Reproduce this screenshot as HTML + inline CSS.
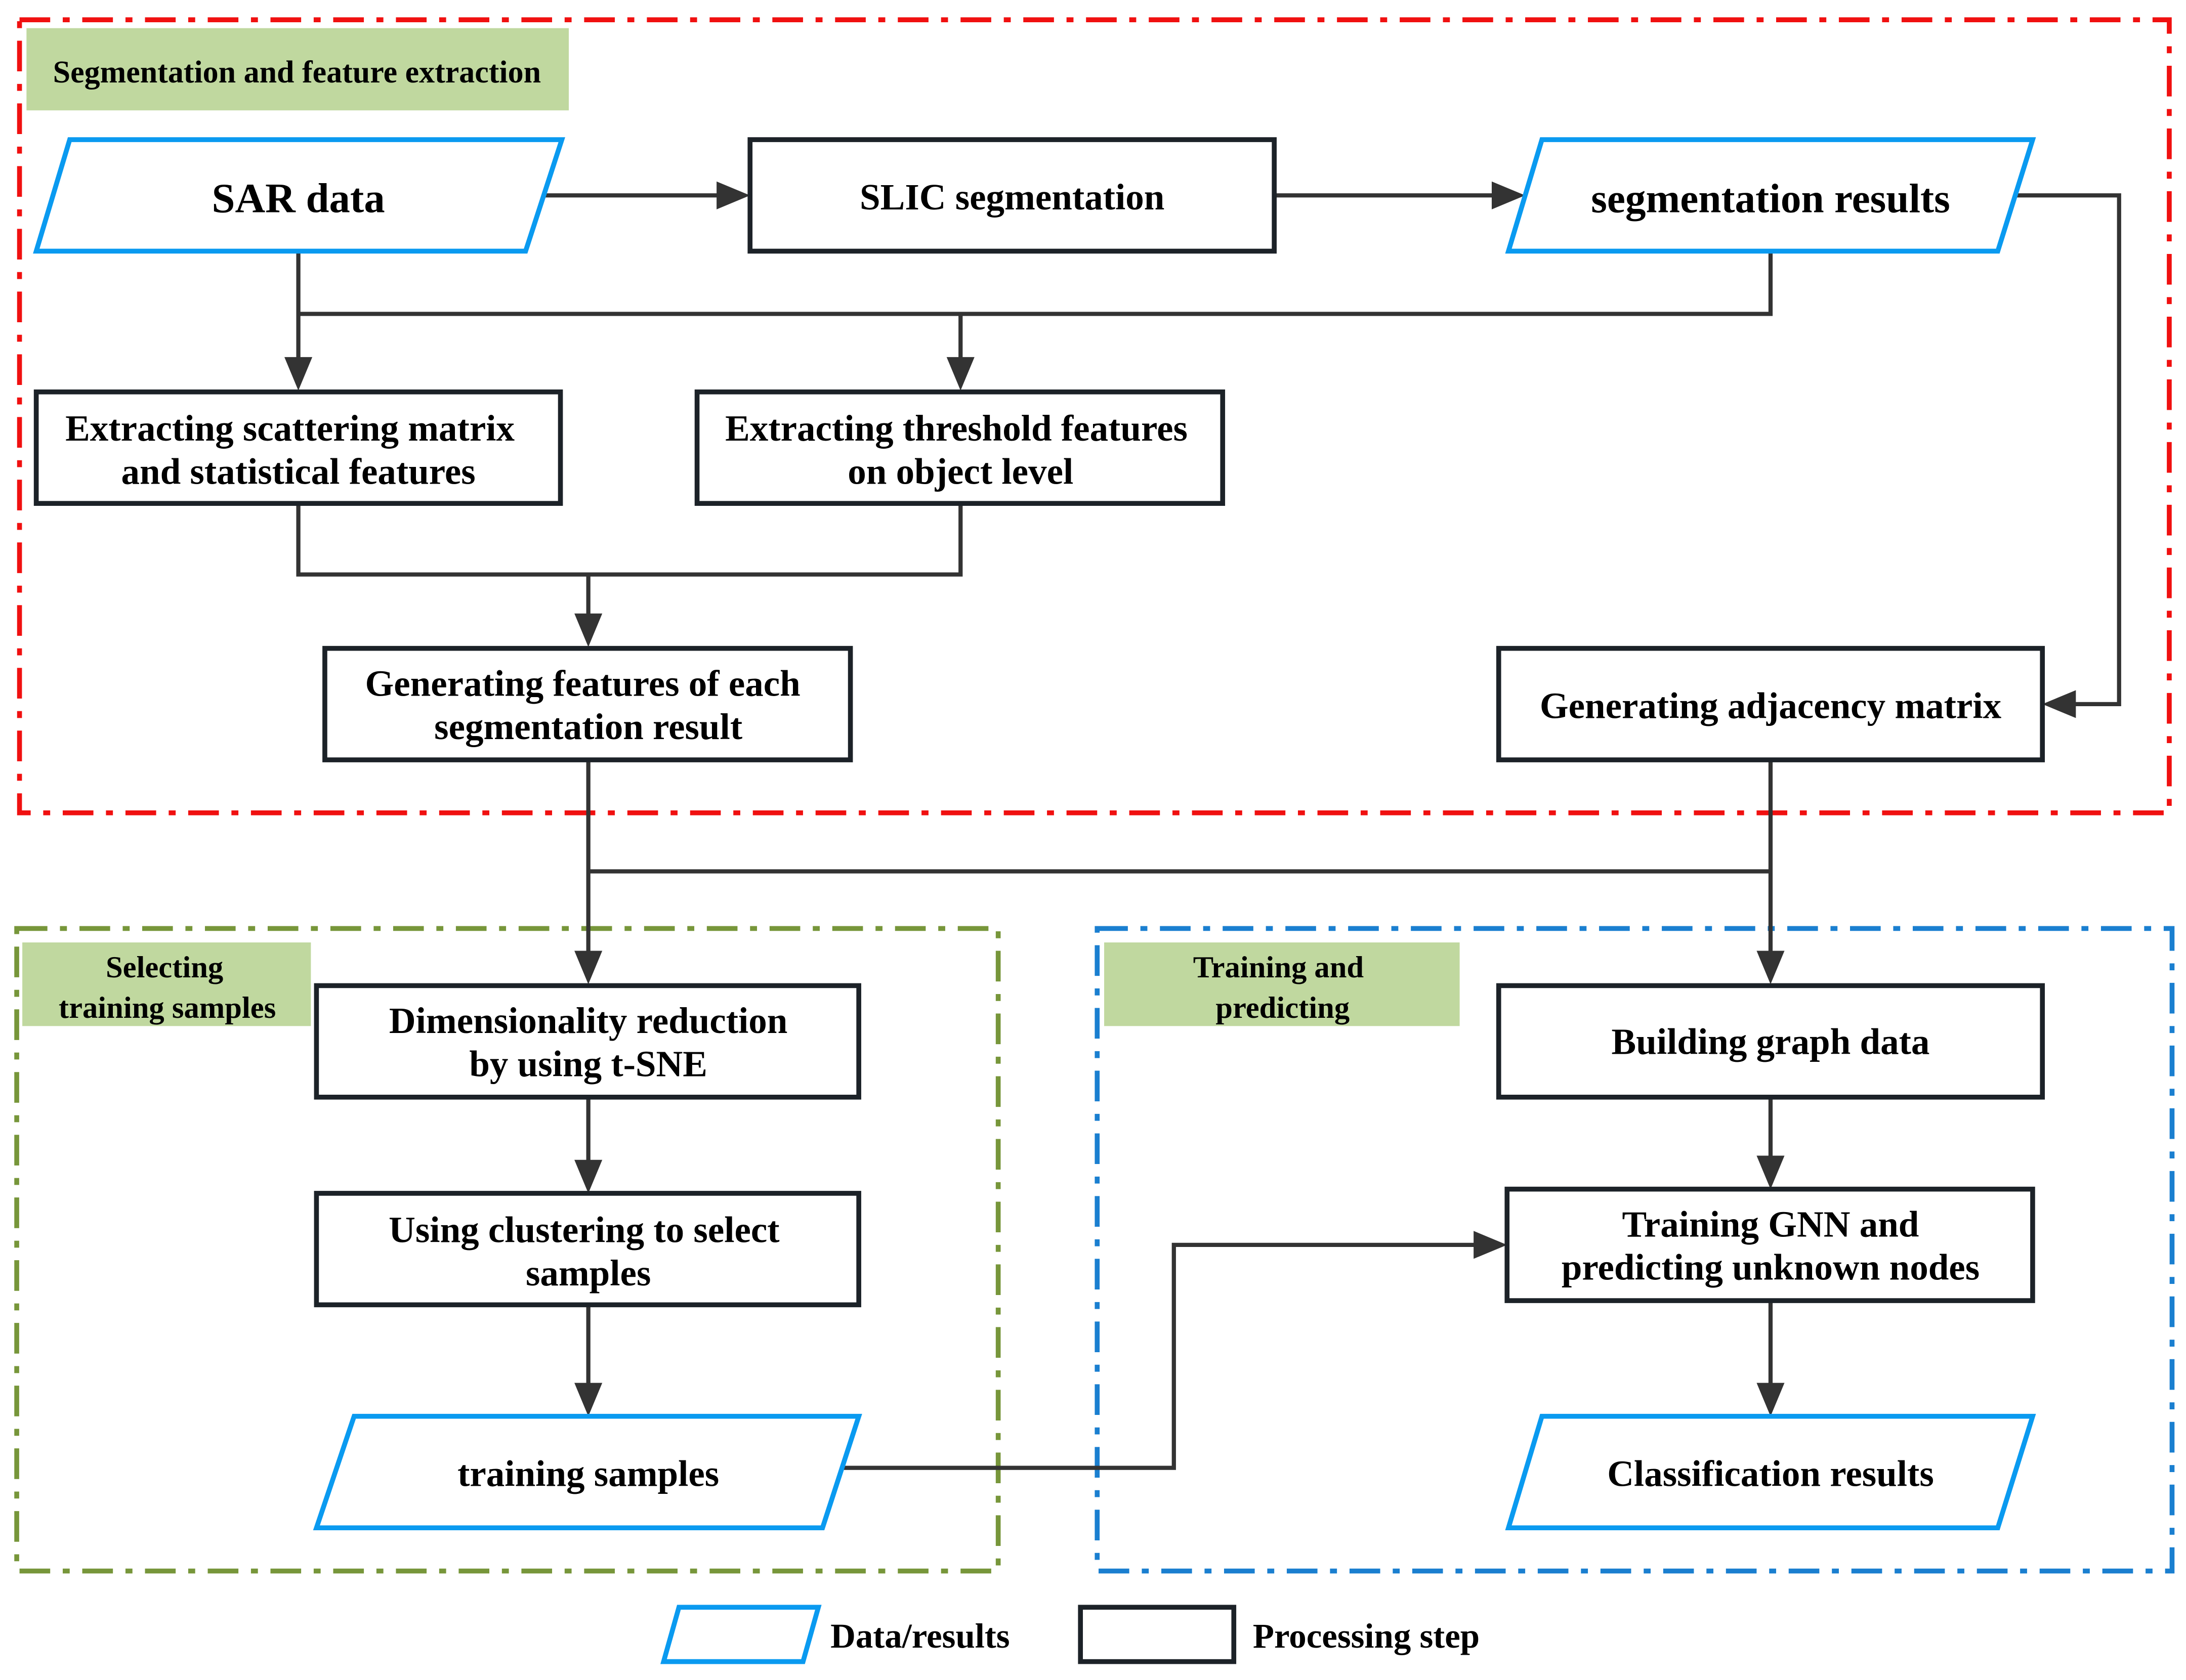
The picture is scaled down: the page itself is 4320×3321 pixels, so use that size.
<!DOCTYPE html>
<html><head><meta charset="utf-8"><style>
html,body{margin:0;padding:0;background:#fff;}
svg{display:block}
text{font-family:"Liberation Serif",serif;font-weight:bold;fill:#000;text-anchor:middle;}
</style></head><body>
<svg width="4320" height="3321" viewBox="0 0 1568 1205" xmlns="http://www.w3.org/2000/svg">
<rect width="1568" height="1205" fill="#fff"/>
<rect x="14" y="14" width="1542" height="569" fill="none" stroke="#f01010" stroke-width="3.5" stroke-dasharray="22,9,5,9"/>
<rect x="12" y="666" width="704" height="461" fill="none" stroke="#77963a" stroke-width="3.5" stroke-dasharray="22,9,5,9"/>
<rect x="787" y="666" width="771" height="461" fill="none" stroke="#1a7fd0" stroke-width="3.5" stroke-dasharray="22,9,5,9"/>
<rect x="19" y="20" width="389" height="59" fill="#c0d89f"/>
<rect x="16" y="676" width="207" height="60" fill="#c0d89f"/>
<rect x="792" y="676" width="255" height="60" fill="#c0d89f"/>
<text x="213" y="59" font-size="22.5">Segmentation and feature extraction</text>
<text x="118" y="701" font-size="22">Selecting</text>
<text x="120" y="730" font-size="22">training samples</text>
<text x="917" y="701" font-size="22">Training and</text>
<text x="920" y="730" font-size="22">predicting</text>
<g stroke="#333" stroke-width="3" fill="none">
<path d="M390 140H520"/>
<path d="M914 140H1076"/>
<path d="M214 180V262"/>
<path d="M214 225H1270V180"/>
<path d="M689 225V262"/>
<path d="M214 361V412H689V361"/>
<path d="M422 412V446"/>
<path d="M1446 140H1520V505H1484"/>
<path d="M422 545V688"/>
<path d="M422 625H1270"/>
<path d="M1270 545V688"/>
<path d="M422 787V838"/>
<path d="M422 936V998"/>
<path d="M1270 787V835"/>
<path d="M1270 933V998"/>
<path d="M604 1053H842V893H1063"/>
</g>
<g fill="#333">
<path d="M538 140L514 130V150Z"/>
<path d="M1094 140L1070 130V150Z"/>
<path d="M214 280L204 256H224Z"/>
<path d="M689 280L679 256H699Z"/>
<path d="M422 464L412 440H432Z"/>
<path d="M1465 505L1489 495V515Z"/>
<path d="M422 706L412 682H432Z"/>
<path d="M1270 706L1260 682H1280Z"/>
<path d="M422 856L412 832H432Z"/>
<path d="M422 1016L412 992H432Z"/>
<path d="M1270 853L1260 829H1280Z"/>
<path d="M1270 1016L1260 992H1280Z"/>
<path d="M1081 893L1057 883V903Z"/>
</g>
<g fill="#fff" stroke="#0a9af0" stroke-width="3.5">
<path d="M50 100H403L377 180H26Z"/>
<path d="M1106 100H1458L1433 180H1082Z"/>
<path d="M254 1016H616L590 1096H227Z"/>
<path d="M1106 1016H1458L1433 1096H1082Z"/>
<path d="M487 1153H587L576 1192H476Z"/>
</g>
<g fill="#fff" stroke="#1c2228" stroke-width="3.5">
<rect x="538" y="100" width="376" height="80"/>
<rect x="26" y="281" width="376" height="80"/>
<rect x="500" y="281" width="377" height="80"/>
<rect x="233" y="465" width="377" height="80"/>
<rect x="1075" y="465" width="390" height="80"/>
<rect x="227" y="707" width="389" height="80"/>
<rect x="227" y="856" width="389" height="80"/>
<rect x="1075" y="707" width="390" height="80"/>
<rect x="1081" y="853" width="377" height="80"/>
<rect x="775" y="1153" width="110" height="39"/>
</g>
<g font-size="26.5">
<text x="214" y="152" font-size="30">SAR data</text>
<text x="726" y="150">SLIC segmentation</text>
<text x="1270" y="152" font-size="29.5">segmentation results</text>
<text x="208" y="316">Extracting scattering matrix</text>
<text x="214" y="347">and statistical features</text>
<text x="686" y="316">Extracting threshold features</text>
<text x="689" y="347">on object level</text>
<text x="418" y="499">Generating features of each</text>
<text x="422" y="530">segmentation result</text>
<text x="1270" y="515">Generating adjacency matrix</text>
<text x="422" y="741">Dimensionality reduction</text>
<text x="422" y="772">by using t-SNE</text>
<text x="419" y="891">Using clustering to select</text>
<text x="422" y="922">samples</text>
<text x="422" y="1066">training samples</text>
<text x="1270" y="756">Building graph data</text>
<text x="1270" y="887">Training GNN and</text>
<text x="1270" y="918">predicting unknown nodes</text>
<text x="1270" y="1066">Classification results</text>
<text x="660" y="1182" font-size="25">Data/results</text>
<text x="980" y="1182" font-size="25">Processing step</text>
</g>
</svg>
</body></html>
